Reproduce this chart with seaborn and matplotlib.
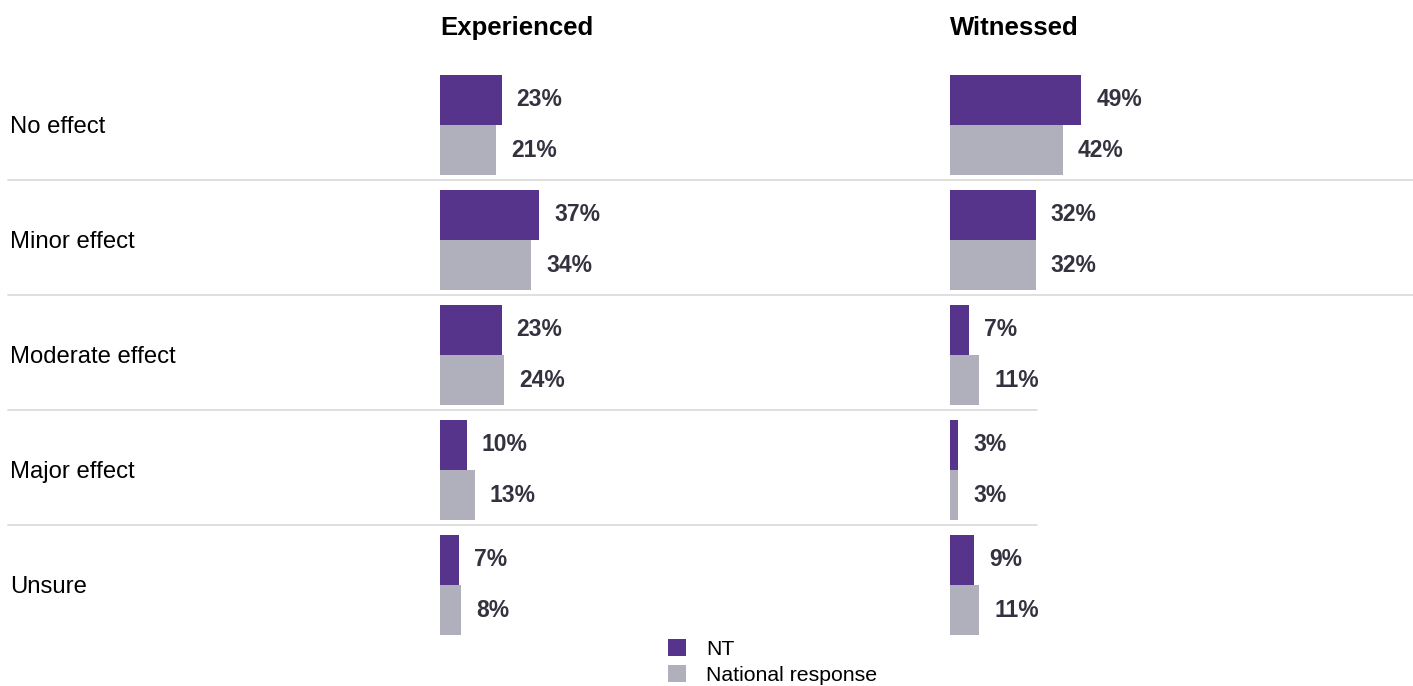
import matplotlib
matplotlib.use("Agg")
import matplotlib.pyplot as plt
import matplotlib.transforms as mtransforms
from matplotlib.lines import Line2D
from matplotlib.patches import Patch
import seaborn as sns
import pandas as pd

categories = ["No effect", "Minor effect", "Moderate effect", "Major effect", "Unsure"]
series = ["NT", "National response"]
experienced_nt = [23, 37, 23, 10, 7]
experienced_nat = [21, 34, 24, 13, 8]
witnessed_nt = [49, 32, 7, 3, 9]
witnessed_nat = [42, 32, 11, 3, 11]
panel_titles = ["Experienced", "Witnessed"]

PURPLE = "#57348c"
GRAY = "#b0b0bc"
TEXT = "#33323f"

sns.set_theme(style="white")
plt.rcParams["font.family"] = ["Liberation Sans", "DejaVu Sans"]

W, H = 1413, 686
fig = plt.figure(figsize=(W / 100, H / 100), dpi=100)

def make_df(nt, nat):
    rows = []
    for c, a, b in zip(categories, nt, nat):
        rows.append({"cat": c, "series": series[0], "val": a})
        rows.append({"cat": c, "series": series[1], "val": b})
    return pd.DataFrame(rows)

px_per_pct = 2.68
ax_w = 100 * px_per_pct
top_px, bot_px = 67.5, 642.5
lefts = [440, 950]
data = [(experienced_nt, experienced_nat), (witnessed_nt, witnessed_nat)]
axes = []
for left, (nt, nat), title in zip(lefts, data, panel_titles):
    ax = fig.add_axes([left / W, (H - bot_px) / H, ax_w / W, (bot_px - top_px) / H])
    df = make_df(nt, nat)
    sns.barplot(data=df, y="cat", x="val", hue="series", order=categories,
                hue_order=series, palette=[PURPLE, GRAY], width=0.87,
                orient="h", ax=ax, legend=False, saturation=1, edgecolor="none")
    ax.set_xlim(0, 100)
    ax.set_ylim(4.5, -0.5)
    ax.axis("off")
    for cont in ax.containers:
        for patch in cont.patches:
            w = patch.get_width()
            y = patch.get_y() + patch.get_height() / 2
            ax.annotate(f"{int(round(w))}%", xy=(w, y), xytext=(15, 0),
                        textcoords="offset pixels", ha="left", va="center",
                        fontsize=16.5, fontweight="bold", color=TEXT)
    fig.text(left / W, 1 - 28 / H, title, ha="left", va="center",
             fontsize=18.5, fontweight="bold", color="black")
    axes.append(ax)

ax1 = axes[0]
trans = mtransforms.blended_transform_factory(fig.transFigure, ax1.transData)
for i, c in enumerate(categories):
    ax1.text(10 / W, i + 0.02, c, transform=trans, ha="left", va="center",
             fontsize=17.2, color="black")

sep_right = [1413, 1413, 1037, 1037]
for i, r in enumerate(sep_right):
    ln = Line2D([8 / W, r / W], [i + 0.48, i + 0.48], transform=trans,
                color="#dcdcdc", lw=1.3, clip_on=False)
    fig.add_artist(ln)

handles = [Patch(facecolor=PURPLE, edgecolor="none"), Patch(facecolor=GRAY, edgecolor="none")]
leg = fig.legend(handles, series, loc="upper left",
                 bbox_to_anchor=(668 / W, 1 - 639 / H), frameon=False,
                 fontsize=15.3, handlelength=0.85, handleheight=0.85,
                 handletextpad=0.95, labelspacing=0.28, borderpad=0, borderaxespad=0,
                 labelcolor="black")

fig.savefig("out.png", dpi=100, facecolor="white")
